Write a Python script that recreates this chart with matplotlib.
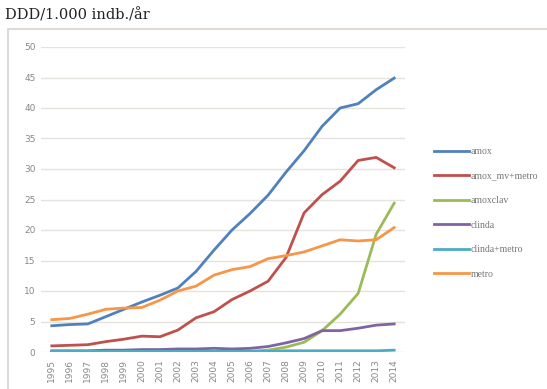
import matplotlib
matplotlib.use("Agg")
import matplotlib.pyplot as plt
from matplotlib.patches import Rectangle

years = list(range(1995, 2015))

amox = [4.3, 4.5, 4.6, 5.8, 7.0, 8.2, 9.3, 10.5, 13.2, 16.7,
        20.0, 22.7, 25.7, 29.5, 33.0, 37.0, 40.0, 40.7, 43.0, 44.9]
amox_mv_metro = [1.0, 1.1, 1.2, 1.7, 2.1, 2.6, 2.5, 3.6, 5.6, 6.6,
                 8.6, 10.0, 11.6, 15.5, 22.8, 25.8, 28.0, 31.4, 31.9, 30.2]
amoxclav = [0.0, 0.0, 0.0, 0.0, 0.0, 0.0, 0.0, 0.0, 0.0, 0.05,
            0.1, 0.15, 0.3, 0.8, 1.6, 3.5, 6.2, 9.6, 19.3, 24.4]
clinda = [0.2, 0.2, 0.2, 0.3, 0.3, 0.4, 0.4, 0.5, 0.5, 0.6,
          0.5, 0.6, 0.9, 1.5, 2.2, 3.5, 3.5, 3.9, 4.4, 4.6]
clinda_metro = [0.1, 0.1, 0.1, 0.1, 0.1, 0.1, 0.1, 0.1, 0.1, 0.1,
                0.1, 0.1, 0.1, 0.2, 0.2, 0.2, 0.2, 0.2, 0.2, 0.3]
metro = [5.3, 5.5, 6.2, 7.0, 7.2, 7.3, 8.5, 10.0, 10.8, 12.6,
         13.5, 14.0, 15.3, 15.8, 16.4, 17.4, 18.4, 18.2, 18.4, 20.4]

series = [
    ("amox", amox, "#4F81BD"),
    ("amox_mv+metro", amox_mv_metro, "#C0504D"),
    ("amoxclav", amoxclav, "#9BBB59"),
    ("clinda", clinda, "#8064A2"),
    ("clinda+metro", clinda_metro, "#4BACC6"),
    ("metro", metro, "#F79646"),
]

fig = plt.figure(figsize=(5.47, 3.89), dpi=100)
fig.patch.set_facecolor("white")

# outer frame of the chart
fig.patches.append(Rectangle((8 / 547, -0.01), 1.0, 1 - 29 / 389 + 0.01,
                             transform=fig.transFigure, fill=False,
                             edgecolor="#d8d2cc", linewidth=1.2))

fig.text(5 / 547, 1 - 15 / 389, "DDD/1.000 indb./år", fontsize=10.5,
         family="DejaVu Serif", va="center", ha="left", color="#222222")

ax = fig.add_axes([41 / 547, 1 - 352 / 389, (405 - 41) / 547, (352 - 47) / 389])

for name, vals, col in series:
    ax.plot(years, vals, color=col, linewidth=2.0, label=name)

ax.set_xlim(1994.4, 2014.6)
ax.set_ylim(0, 50)
ax.set_yticks(range(0, 51, 5))
ax.set_xticks(years)
ax.set_xticklabels([str(y) for y in years], rotation=90)
ax.tick_params(axis="both", length=0, labelsize=6.5, labelcolor="#888888")
ax.tick_params(axis="y", pad=4)
ax.tick_params(axis="x", pad=5)
ax.grid(axis="y", color="#e6e2de", linewidth=1.0)
ax.set_axisbelow(True)
for s in ax.spines.values():
    s.set_visible(False)

leg = ax.legend(loc="center left", bbox_to_anchor=(1.07, 0.456), frameon=False,
                prop={"family": "Liberation Serif", "size": 7},
                handlelength=3.6, handletextpad=0.1,
                labelspacing=1.6, borderaxespad=0)
for t in leg.get_texts():
    t.set_color("#777777")

fig.savefig("out.png", dpi=100)
